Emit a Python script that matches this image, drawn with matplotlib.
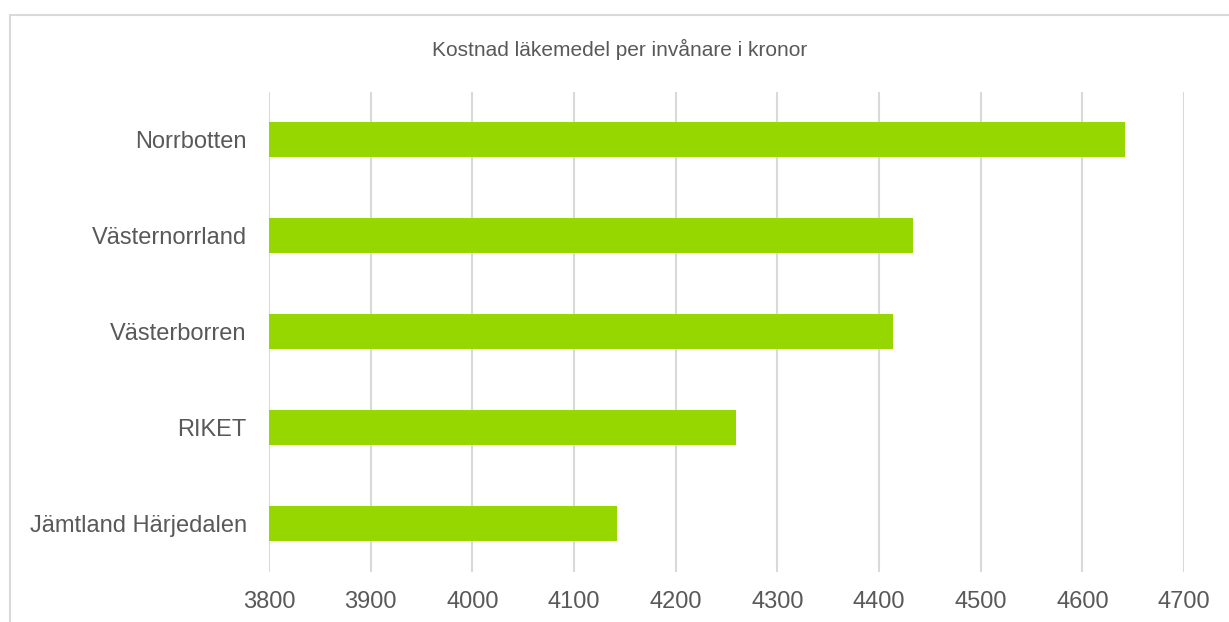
import matplotlib.pyplot as plt
from matplotlib.patches import Rectangle

plt.rcParams['font.family'] = ['Liberation Sans', 'DejaVu Sans']

regions = ['Jämtland Härjedalen', 'RIKET', 'Västerborren', 'Västernorrland', 'Norrbotten']
kostnad = [4142, 4259, 4414, 4433, 4642]
ticks = [3800, 3900, 4000, 4100, 4200, 4300, 4400, 4500, 4600, 4700]

grey = '#595959'
grid = '#D9D9D9'

fig = plt.figure(figsize=(12.29, 6.22), dpi=100)
ax = fig.add_axes([269 / 1229, 1 - 571.5 / 622, (1184 - 269) / 1229, (571.5 - 91.5) / 622])

# outer chart border (cut off at right and bottom in the original)
fig.patches.append(Rectangle((10 / 1229, -0.1), 1.2, 1.1 - 14.5 / 622,
                             transform=fig.transFigure, fill=False,
                             edgecolor=grid, linewidth=1.5))

y = range(len(regions))
ax.barh(y, [k - 3800 for k in kostnad], left=3800, height=0.355, color='#97D700', zorder=3)

ax.set_xlim(3800, 4700)
ax.set_ylim(-0.5, 4.5)
ax.set_xticks(ticks)
ax.set_xticklabels([str(t) for t in ticks], fontsize=17, color=grey)
ax.set_yticks(list(y))
ax.set_yticklabels(regions, fontsize=17, color=grey)
ax.tick_params(axis='x', length=0, pad=14)
ax.tick_params(axis='y', length=0, pad=16)
ax.grid(axis='x', color=grid, linewidth=1.5, zorder=0)
for s in ax.spines.values():
    s.set_visible(False)

fig.text(620 / 1229, 1 - 49 / 622, 'Kostnad läkemedel per invånare i kronor',
         ha='center', va='center', fontsize=15, color=grey)

fig.savefig('out.png', dpi=100)
